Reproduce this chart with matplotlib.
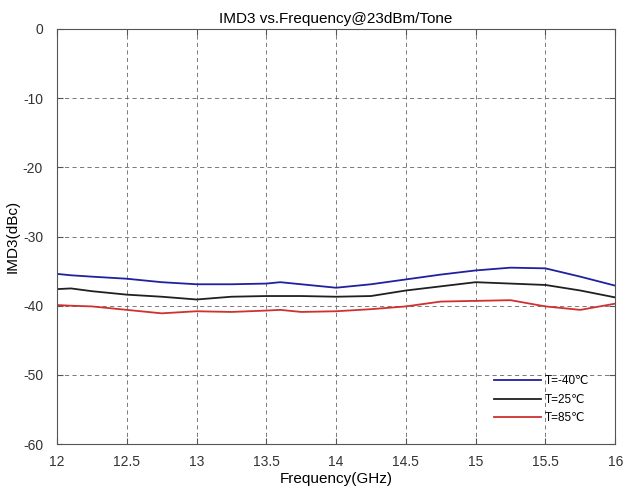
import matplotlib
matplotlib.use("Agg")
import matplotlib.pyplot as plt
import numpy as np

plt.rcParams["font.family"] = ["Liberation Sans", "DejaVu Sans"]
plt.rcParams["axes.unicode_minus"] = False

# 周波数 (GHz) とIMD3 (dBc) を図から読み取り
freq = [12.0, 12.1, 12.25, 12.5, 12.75, 13.0, 13.25, 13.5, 13.6, 13.75, 14.0,
        14.25, 14.5, 14.75, 15.0, 15.25, 15.5, 15.75, 16.0]
imd_m40 = [-35.4, -35.6, -35.8, -36.1, -36.6, -36.9, -36.9, -36.8, -36.6, -36.9, -37.4,
           -36.9, -36.2, -35.5, -34.9, -34.5, -34.6, -35.8, -37.1]
imd_25 = [-37.6, -37.5, -37.9, -38.4, -38.7, -39.1, -38.7, -38.6, -38.6, -38.6, -38.7,
          -38.6, -37.8, -37.2, -36.6, -36.8, -37.0, -37.8, -38.8]
imd_85 = [-39.9, -40.0, -40.1, -40.6, -41.1, -40.8, -40.9, -40.7, -40.6, -40.9, -40.8,
          -40.5, -40.1, -39.4, -39.3, -39.2, -40.1, -40.6, -39.7]
labels = ["T=-40℃", "T=25℃", "T=85℃"]
colors = ["#2020a0", "#202020", "#d03030"]

fig = plt.figure(figsize=(6.23, 4.99), dpi=100)
ax = fig.add_axes([0.0915, 0.110, 0.896, 0.832])

for y, c, lab in zip([imd_m40, imd_25, imd_85], colors, labels):
    ax.plot(freq, y, color=c, linewidth=1.3, label=lab)

ax.set_xlim(12, 16)
ax.set_ylim(-60, 0)
ax.set_xticks(np.arange(12, 16.01, 0.5))
ax.set_xticklabels(["12", "12.5", "13", "13.5", "14", "14.5", "15", "15.5", "16"])
ax.set_yticks(np.arange(-60, 1, 10))
ax.grid(True, linestyle=(0, (5, 4)), color="#666666", linewidth=0.6)
ax.tick_params(direction="in", labelsize=10, labelcolor="#333333", color="#555555",
               length=4, top=True, right=True)
ax.tick_params(axis="x", pad=8)
ax.tick_params(axis="y", pad=10)
for s in ax.spines.values():
    s.set_color("#555555")

ax.set_title("IMD3 vs.Frequency@23dBm/Tone", fontsize=11, pad=4)
ax.set_xlabel("Frequency(GHz)", fontsize=11, labelpad=2)
ax.set_ylabel("IMD3(dBc)", fontsize=11, labelpad=2)

leg = ax.legend(loc="lower right", frameon=False, fontsize=8.5, handlelength=4.0,
                handletextpad=0.3, labelspacing=0.55, borderaxespad=0.4,
                bbox_to_anchor=(0.97, 0.025))

fig.savefig("out.png", dpi=100)
